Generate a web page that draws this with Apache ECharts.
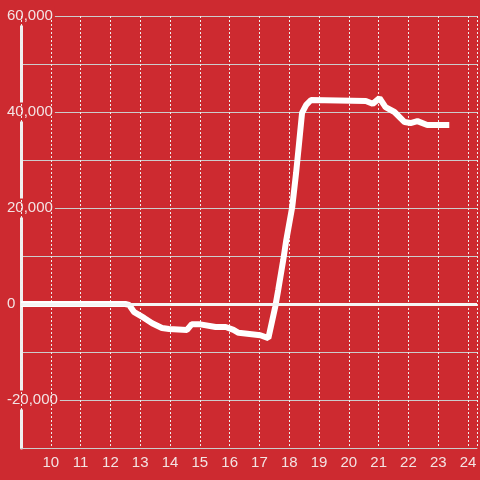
<!DOCTYPE html>
<html>
<head>
<meta charset="utf-8">
<script src="https://cdn.jsdelivr.net/npm/echarts@6/dist/echarts.min.js"></script>
<style>
	html, body { margin: 0; padding: 0; background: #cd2a30; }
	#chart { width: 480px; height: 480px; }
</style>
</head>
<body>
<div id="chart"></div>
<script>
// hour of day (x) and value (y)
var hours = [9, 12.5, 12.63, 12.8, 13.13, 13.4, 13.73, 13.97, 14.57, 14.73, 14.97, 15.53, 15.87, 16.13, 16.3, 17.03, 17.3,
	17.53, 17.63, 17.8, 17.9, 18.1, 18.23, 18.33, 18.43, 18.57, 18.73, 20.57, 20.8, 21.03, 21.23, 21.53, 21.87, 22.07, 22.3, 22.63, 23.37];
var values = [0, 0, -200, -1700, -2900, -4000, -5000, -5200, -5400, -4200, -4200, -4800, -4800, -5400, -6000, -6500, -7100,
	-600, 2900, 9200, 13300, 20200, 27300, 33500, 39800, 41500, 42500, 42300, 41700, 42900, 41000, 40000, 37900, 37700, 38100, 37300, 37300];
var xTicks = [10, 11, 12, 13, 14, 15, 16, 17, 18, 19, 20, 21, 22, 23, 24];
var yTicks = [-20000, 0, 20000, 40000, 60000];

var bg = '#cd2a30';
var txt = '#f3e3e3';

var chart = echarts.init(document.getElementById('chart'));

var points = [];
for (var i = 0; i < hours.length; i++) {
	points.push([hours[i], values[i]]);
}

chart.setOption({
	backgroundColor: bg,
	animation: false,
	grid: { left: 21, right: 0, top: 16, bottom: 32 },
	xAxis: {
		type: 'value',
		z: 1,
		min: 9,
		max: 24.3,
		interval: 1,
		axisLine: { show: true, onZero: false, lineStyle: { color: '#cccccc', width: 1 } },
		axisTick: { show: false },
		axisLabel: {
			color: txt,
			fontSize: 15,
			fontFamily: 'Liberation Sans',
			margin: 7,
			formatter: function (v) {
				return xTicks.indexOf(v) >= 0 ? String(v) : '';
			}
		},
		splitLine: { show: true, lineStyle: { color: '#eeeeee', width: 1, type: [2, 2] } }
	},
	yAxis: {
		type: 'value',
		z: 0,
		min: -30000,
		max: 60000,
		interval: 10000,
		axisLine: { show: true, lineStyle: { color: '#f0f0f0', width: 3 } },
		axisTick: { show: false },
		axisLabel: {
			color: txt,
			fontSize: 15,
			fontFamily: 'Liberation Sans',
			align: 'left',
			margin: 16,
			backgroundColor: bg,
			padding: [2, 2],
			formatter: function (v) {
				return yTicks.indexOf(v) >= 0 ? v.toLocaleString('en-US') : '';
			}
		},
		splitLine: { show: true, lineStyle: { color: '#cccccc', width: 1 } }
	},
	series: [{
		type: 'line',
		data: points,
		symbol: 'none',
		smooth: false,
		lineStyle: { color: '#ffffff', width: 6 },
		markLine: {
			silent: true,
			symbol: 'none',
			label: { show: false },
			lineStyle: { color: '#f5f5f5', width: 3, type: 'solid' },
			data: [{ yAxis: 0 }]
		}
	}]
});
</script>
</body>
</html>
